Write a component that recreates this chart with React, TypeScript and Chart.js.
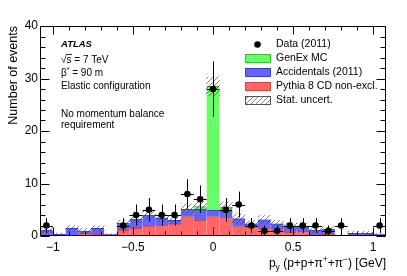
import { useEffect, useRef } from "react";
import { Chart, registerables } from "chart.js";
Chart.register(...registerables);

// ---------- data ----------
const binCenters = [-1.04, -0.96, -0.88, -0.8, -0.72, -0.64, -0.56, -0.48, -0.4, -0.32, -0.24, -0.16, -0.08, 0, 0.08, 0.16, 0.24, 0.32, 0.4, 0.48, 0.56, 0.64, 0.72, 0.8, 0.88, 0.96, 1.04];
const binHalfWidth = 0.04;
const pythia = [0.2, 0.05, 0.1, 0.5, 0.3, 0.15, 1.1, 1.45, 1.9, 2.1, 2.3, 3.7, 3.0, 3.7, 3.6, 1.8, 1.8, 1.45, 1.15, 0.7, 0.9, 0.2, 0.3, 0.05, 0.05, 0.05, 0.2];
const accidentals = [0.95, 0.25, 1.35, 0.45, 1.15, 0.1, 1.3, 1.75, 2.1, 1.3, 0.7, 1.4, 2.1, 1.2, 1.2, 1.5, 0.5, 1.65, 1.15, 1.2, 1.0, 0.9, 1.0, 0.05, 0.45, 0.45, 0.05];
const genex = [0, 0, 0, 0, 0, 0, 0, 0, 0, 0, 0, 0, 0.5, 23.6, 0.7, 0, 0, 0, 0, 0, 0, 0, 0, 0, 0, 0, 0];
const statUnc = [0.5, 0.3, 0.55, 0.5, 0.55, 0.2, 0.6, 0.7, 0.8, 0.7, 0.7, 1.0, 1.0, 1.8, 1.0, 0.9, 0.6, 0.8, 0.7, 0.6, 0.6, 0.5, 0.5, 0.1, 0.4, 0.4, 0.2];
const dataCounts = [2, null, null, null, null, null, 2, 4, 5, 4, 4, 8, 7, 28, 5, 6, 2, 1, 1, 2, 2, 2, 1, 2, null, null, 2];
const dataErrors = [1.41, null, null, null, null, null, 1.41, 2, 2.24, 2, 2, 2.83, 2.65, 5.29, 2.24, 2.45, 1.41, 1, 1, 1.41, 1.41, 1.41, 1, 1.41, null, null, 1.41];
const xTickValues = [-1, -0.5, 0, 0.5, 1];
const xTickLabels = ["\u22121", "\u22120.5", "0", "0.5", "1"];
const yTickValues = [0, 10, 20, 30, 40];
const yTickLabels = ["0", "10", "20", "30", "40"];
const legendLabels = ["Data (2011)", "GenEx MC", "Accidentals (2011)", "Pythia 8 CD non-excl.", "Stat. uncert."];
const infoLines = ["ATLAS", "\u221As = 7 TeV", "\u03B2* = 90 m", "Elastic configuration", "No momentum balance", "requirement"];
const yTitle = "Number of events";

const FONT = '"Liberation Sans", Arial, Helvetica, sans-serif';
const GREEN = "#66ff66";
const GREEN_L = "#33c033";
const BLUE = "#6464ff";
const BLUE_L = "#3c3cd8";
const RED = "#ff6666";
const RED_L = "#d84040";

function makeHatch(): CanvasPattern | string {
  const c = document.createElement("canvas");
  c.width = 5;
  c.height = 5;
  const g = c.getContext("2d");
  if (!g) return "rgba(0,0,0,0)";
  g.strokeStyle = "rgba(60,60,60,0.8)";
  g.lineWidth = 0.8;
  g.beginPath();
  g.moveTo(-1, 6);
  g.lineTo(6, -1);
  g.moveTo(-1, 1);
  g.lineTo(1, -1);
  g.moveTo(4, 6);
  g.lineTo(6, 4);
  g.stroke();
  return g.createPattern(c, "repeat") || "rgba(0,0,0,0)";
}

export default function App() {
  const ref = useRef<HTMLCanvasElement>(null);
  useEffect(() => {
    const canvas = ref.current;
    if (!canvas) return;
    const hatch = makeHatch();
    const barCommon = {
      grouped: false,
      barPercentage: 1,
      categoryPercentage: 1,
      borderSkipped: false as const,
    };
    const redData = binCenters.map((x, i) => ({ x, y: [0, pythia[i]] }));
    const blueData = binCenters.map((x, i) => ({ x, y: [pythia[i], pythia[i] + accidentals[i]] }));
    const greenData = binCenters.map((x, i) =>
      genex[i] > 0
        ? { x, y: [pythia[i] + accidentals[i], pythia[i] + accidentals[i] + genex[i]] }
        : { x, y: null }
    );
    const hatchData = binCenters.map((x, i) => {
      const t = pythia[i] + accidentals[i] + genex[i];
      return { x, y: [Math.max(0, t - statUnc[i]), t + statUnc[i]] };
    });
    const pointData = binCenters.map((x, i) => ({ x, y: dataCounts[i] }));

    const errorBars = {
      id: "errorBars",
      beforeDatasetDraw(chart: any, args: any) {
        if (args.index !== 0) return;
        const { ctx, scales } = chart;
        const xs = scales.x;
        const ys = scales.y;
        ctx.save();
        ctx.strokeStyle = "#000";
        ctx.lineWidth = 1;
        binCenters.forEach((x, i) => {
          const v = dataCounts[i];
          const e = dataErrors[i];
          if (v === null || e === null) return;
          const px = Math.round(xs.getPixelForValue(x)) + 0.5;
          const py = Math.round(ys.getPixelForValue(v)) + 0.5;
          ctx.beginPath();
          ctx.moveTo(px, ys.getPixelForValue(v + e));
          ctx.lineTo(px, ys.getPixelForValue(Math.max(0, v - e)));
          ctx.moveTo(xs.getPixelForValue(x - binHalfWidth), py);
          ctx.lineTo(xs.getPixelForValue(x + binHalfWidth), py);
          ctx.stroke();
        });
        ctx.restore();
      },
    };

    const frame = {
      id: "frame",
      afterDatasetsDraw(chart: any) {
        const { ctx, chartArea: a, scales } = chart;
        const xs = scales.x;
        const ys = scales.y;
        const L = Math.round(a.left) + 0.5;
        const R = Math.round(a.right) - 0.5;
        const T = Math.round(a.top) + 0.5;
        const B = Math.round(a.bottom) - 0.5;
        ctx.save();
        ctx.strokeStyle = "#000";
        ctx.lineWidth = 1;
        ctx.beginPath();
        ctx.rect(L, T, R - L, B - T);
        for (let k = -10; k <= 10; k++) {
          const v = k / 10;
          const px = Math.round(xs.getPixelForValue(v)) + 0.5;
          const len = k % 5 === 0 ? 8 : 4;
          ctx.moveTo(px, B);
          ctx.lineTo(px, B - len);
          ctx.moveTo(px, T);
          ctx.lineTo(px, T + len);
        }
        for (let k = 0; k <= 20; k++) {
          const v = k * 2;
          const py = Math.round(ys.getPixelForValue(v)) + 0.5;
          const len = k % 5 === 0 ? 9 : 5;
          ctx.moveTo(L, py);
          ctx.lineTo(L + len, py);
          ctx.moveTo(R, py);
          ctx.lineTo(R - len, py);
        }
        ctx.stroke();
        ctx.restore();
      },
    };

    const texts = {
      id: "texts",
      afterDraw(chart: any) {
        const { ctx } = chart;
        ctx.save();
        ctx.fillStyle = "#000";
        ctx.save();
        ctx.translate(14, 26);
        ctx.rotate(-Math.PI / 2);
        ctx.font = `12.5px ${FONT}`;
        ctx.textAlign = "right";
        ctx.textBaseline = "middle";
        ctx.fillText(yTitle, 0, 0);
        ctx.restore();

        const segs = [
          { t: "p", k: 0 },
          { t: "y", k: 1 },
          { t: " (p+p+\u03C0", k: 0 },
          { t: "+", k: 2 },
          { t: "+\u03C0", k: 0 },
          { t: "\u2212", k: 2 },
          { t: ") [GeV]", k: 0 },
        ];
        const fontFor = (k: number) => (k === 0 ? `12px ${FONT}` : `8.5px ${FONT}`);
        let total = 0;
        segs.forEach((s) => {
          ctx.font = fontFor(s.k);
          total += ctx.measureText(s.t).width;
        });
        let cx = 386 - total;
        const base = 267;
        ctx.textAlign = "left";
        ctx.textBaseline = "alphabetic";
        segs.forEach((s) => {
          ctx.font = fontFor(s.k);
          const dy = s.k === 1 ? 3 : s.k === 2 ? -5 : 0;
          ctx.fillText(s.t, cx, base + dy);
          cx += ctx.measureText(s.t).width;
        });

        const ix = 61;
        ctx.textBaseline = "middle";
        ctx.font = `bold italic 9.5px ${FONT}`;
        ctx.fillText(infoLines[0], ix, 44);
        ctx.font = `10px ${FONT}`;
        ctx.fillText(infoLines[1], ix, 60);
        const wSqrt = ctx.measureText("\u221A").width;
        const wS = ctx.measureText("s").width;
        ctx.fillRect(ix + wSqrt - 0.5, 54, wS + 1, 0.8);
        ctx.fillText("\u03B2", ix, 73);
        const wB = ctx.measureText("\u03B2").width;
        ctx.font = `7px ${FONT}`;
        ctx.fillText("*", ix + wB, 70);
        const wStar = ctx.measureText("*").width;
        ctx.font = `10px ${FONT}`;
        ctx.fillText(infoLines[2].slice(2), ix + wB + wStar, 73);
        ctx.fillText(infoLines[3], ix, 86);
        ctx.fillText(infoLines[4], ix, 114);
        ctx.fillText(infoLines[5], ix, 125.5);

        const rows = [44.5, 58.5, 72, 86, 100];
        const bx = 245;
        const bw = 26;
        const bh = 9;
        const tx = 276;
        ctx.beginPath();
        ctx.arc(257.5, rows[0], 3.3, 0, Math.PI * 2);
        ctx.fill();
        const boxes = [
          [GREEN, GREEN_L],
          [BLUE, BLUE_L],
          [RED, RED_L],
        ];
        boxes.forEach(([f, l], i) => {
          const y = Math.round(rows[i + 1] - bh / 2);
          ctx.fillStyle = f;
          ctx.fillRect(bx, y, bw, bh);
          ctx.strokeStyle = l;
          ctx.lineWidth = 1;
          ctx.strokeRect(bx + 0.5, y + 0.5, bw - 1, bh - 1);
        });
        {
          const y = Math.round(rows[4] - bh / 2);
          ctx.fillStyle = "#fff";
          ctx.fillRect(bx, y, bw, bh);
          ctx.fillStyle = hatch as any;
          ctx.fillRect(bx, y, bw, bh);
          ctx.strokeStyle = "#555";
          ctx.strokeRect(bx + 0.5, y + 0.5, bw - 1, bh - 1);
        }
        ctx.fillStyle = "#000";
        ctx.font = `10.5px ${FONT}`;
        ctx.textAlign = "left";
        ctx.textBaseline = "middle";
        legendLabels.forEach((s, i) => ctx.fillText(s, tx, rows[i]));
        ctx.restore();
      },
    };

    const chart = new Chart(canvas, {
      type: "bar",
      data: {
        datasets: [
          {
            type: "scatter",
            label: "Data (2011)",
            data: pointData as any,
            pointRadius: 3.3,
            pointHoverRadius: 3.3,
            pointBackgroundColor: "#000",
            pointBorderColor: "#000",
            pointBorderWidth: 0,
            showLine: false,
          } as any,
          {
            label: "Stat. uncert.",
            data: hatchData as any,
            backgroundColor: hatch as any,
            borderWidth: 0,
            ...barCommon,
          },
          {
            label: "Pythia 8 CD non-excl.",
            data: redData as any,
            backgroundColor: RED,
            borderColor: RED_L,
            borderWidth: { top: 1, left: 0, right: 0, bottom: 0 },
            ...barCommon,
          },
          {
            label: "Accidentals (2011)",
            data: blueData as any,
            backgroundColor: BLUE,
            borderColor: BLUE_L,
            borderWidth: { top: 1, left: 0, right: 0, bottom: 0 },
            ...barCommon,
          },
          {
            label: "GenEx MC",
            data: greenData as any,
            backgroundColor: GREEN,
            borderColor: GREEN_L,
            borderWidth: { top: 1, left: 0, right: 0, bottom: 0 },
            ...barCommon,
          },
        ],
      },
      options: {
        animation: false,
        responsive: false,
        devicePixelRatio: 1,
        events: [],
        layout: { padding: { left: 0, right: 21, top: 26, bottom: 0 } },
        plugins: { legend: { display: false }, tooltip: { enabled: false }, title: { display: false } },
        scales: {
          x: {
            type: "linear",
            offset: false,
            min: -1.08,
            max: 1.08,
            grid: { display: false, drawTicks: false, offset: false },
            border: { display: false },
            afterBuildTicks: (s: any) => {
              s.ticks = xTickValues.map((v) => ({ value: v }));
            },
            afterFit: (s: any) => {
              s.height = 40;
            },
            ticks: {
              autoSkip: false,
              maxRotation: 0,
              padding: 4,
              color: "#000",
              font: { family: FONT, size: 12 },
              callback: (_v: any, i: number) => xTickLabels[i],
            },
          },
          y: {
            type: "linear",
            min: 0,
            max: 40,
            grid: { display: false, drawTicks: false },
            border: { display: false },
            afterBuildTicks: (s: any) => {
              s.ticks = yTickValues.map((v) => ({ value: v }));
            },
            afterFit: (s: any) => {
              s.width = 40;
            },
            ticks: {
              autoSkip: false,
              padding: 2,
              color: "#000",
              font: { family: FONT, size: 12 },
              callback: (_v: any, i: number) => yTickLabels[i],
            },
          },
        },
      },
      plugins: [errorBars, frame, texts],
    });
    return () => chart.destroy();
  }, []);
  return (
    <div style={{ position: "absolute", left: 0, top: 0, width: 407, height: 276, background: "#fff" }}>
      <canvas ref={ref} width={407} height={276} style={{ display: "block" }} />
    </div>
  );
}
